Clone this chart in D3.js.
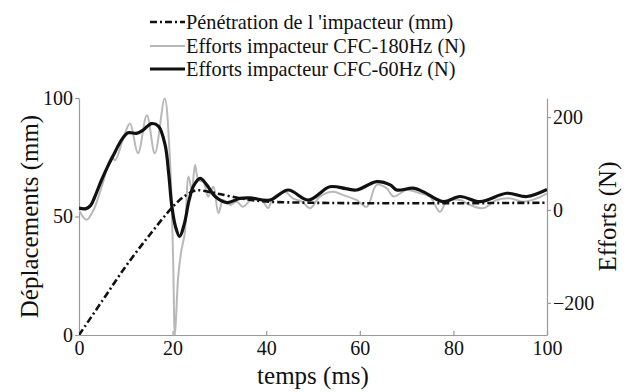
<!DOCTYPE html>
<html><head><meta charset="utf-8">
<script src="https://cdn.jsdelivr.net/npm/d3@7"></script>
<style>
body{margin:0;background:#fff;}
</style></head>
<body><svg id="c" width="632" height="392"></svg>
<script>
// Data
const tPen = [0,5,10,15,20,22.5,25,27.5,30,35,40,50,60,70,80,90,100];
const penMm = [0,14.5,29,42,54,58.5,61,60.5,59.5,57.5,56.3,55.8,55.6,55.6,55.6,55.7,55.8];

const t60 = [0,1.5,2.5,3.4,4.8,6.3,7.7,9.1,10.5,12.3,13.7,15.5,17.0,18.4,19.2,19.8,20.6,21.5,22.5,23.5,24.5,25.9,27.3,29.1,31.6,34.4,36.5,40.8,44.7,49,53.6,57,59.3,63.6,66.5,67.9,71.4,73.6,77.8,81.4,85.7,91.4,95.7,100];
const f60 = [4,3,10,29,64,97,125,151,166,165,172,186,180,140,75,11,-35,-57,-30,20,52,68,54,29,16,25,26,21.5,43,21.5,50,46,43,61,54,43,47,39,18,29,18,36,29,44];

const t180 = [0,1.6,3.1,5,7,7.7,9.8,10.9,12.6,14.5,16.2,18.3,19.4,20.1,20.5,21.2,21.9,22.6,23.4,24.1,24.8,25.5,26.6,27.6,28.7,29.8,30.8,32.3,33.7,35,37.2,39.3,40.4,41.5,44,45.7,47.6,49.4,51.5,54.3,56.5,59.3,61.5,63.6,65.7,67.2,70,72.9,75,77.1,78.6,81.4,83.5,86.4,89.2,92.1,94.9,97.8,100];
const f180 = [0,-21,0,55,115,107,165,186,122,204,122,240,115,-100,-269,-143,-86,-50,72,43,97,65,60,29,50,-7,21.5,11,18,7,25,18,4,26,39,25,18,4,29,39,32,21.5,7,54,47,29,43,36,29,-4,18,21.5,11,4,21.5,25,18,25,36];

const xTicks = [0,20,40,60,80,100];
const yLeftTicks = [0,50,100];
const yRightTicks = [-200,0,200];
const legendLabels = ["Pénétration de l 'impacteur (mm)","Efforts impacteur CFC-180Hz (N)","Efforts impacteur CFC-60Hz (N)"];

const FONT = "Liberation Serif, DejaVu Serif, serif";
const svg = d3.select("#c").attr("font-family",FONT);
const L=79,R=547,T=98,B=335;
const x = d3.scaleLinear().domain([0,100]).range([L,R]);
const yL = d3.scaleLinear().domain([0,100]).range([B,T]);
const yR = d3.scaleLinear().domain([-269,241]).range([B,T]);
const axisColor = "#9a9a9a";

svg.append("defs").append("clipPath").attr("id","clip")
  .append("rect").attr("x",L).attr("y",T-2).attr("width",R-L).attr("height",B-T+2);

// axes
const gx = svg.append("g").attr("transform",`translate(0,${B})`)
  .call(d3.axisBottom(x).tickValues(xTicks).tickSizeInner(-4).tickSizeOuter(0).tickPadding(9));
const gl = svg.append("g").attr("transform",`translate(${L},0)`)
  .call(d3.axisLeft(yL).tickValues(yLeftTicks).tickSizeInner(4).tickSizeOuter(0).tickPadding(2));
const gr = svg.append("g").attr("transform",`translate(${R},0)`)
  .call(d3.axisRight(yR).tickValues(yRightTicks).tickSizeInner(4).tickSizeOuter(0).tickPadding(2));
[gx,gl,gr].forEach(g=>{
  g.attr("font-family",FONT).attr("font-size",20);
  g.selectAll("path,line").attr("stroke",axisColor).attr("stroke-width",1.2);
  g.selectAll("text").attr("font-family",FONT).attr("font-size",20).attr("fill","#111");
});
gx.selectAll("text").attr("dy","0.55em");

// lines
const plot = svg.append("g").attr("clip-path","url(#clip)");
const line = (ts,vs,ys)=> d3.line().curve(d3.curveCatmullRom.alpha(0.5))
  .x((d,i)=>x(ts[i])).y((d,i)=>ys(vs[i]))(vs);

plot.append("path").attr("d",line(t180,f180,yR)).attr("fill","none")
  .attr("stroke","#b8b8b8").attr("stroke-width",2);
plot.append("path").attr("d",line(tPen,penMm,yL)).attr("fill","none")
  .attr("stroke","#111").attr("stroke-width",2.6).attr("stroke-dasharray","7,3,2,3");
plot.append("path").attr("d",line(t60,f60,yR)).attr("fill","none")
  .attr("stroke","#111").attr("stroke-width",3.2);

// titles
const title = (tr,txt)=> svg.append("text").attr("transform",tr).attr("text-anchor","middle")
  .attr("font-family",FONT).attr("font-size",25).attr("fill","#111").text(txt);
title(`translate(${(L+R)/2},384)`,"temps (ms)");
title(`translate(38,${(T+B)/2}) rotate(-90)`,"Déplacements (mm)");
title(`translate(616,${(T+B)/2}) rotate(-90)`,"Efforts (N)");

// legend
const lg = svg.append("g");
const styles = [
  {stroke:"#111",w:2.6,dash:"7,3,2,3"},
  {stroke:"#b8b8b8",w:2,dash:null},
  {stroke:"#111",w:3.2,dash:null}
];
const rowsY = [22,46,69];
legendLabels.forEach((lab,i)=>{
  lg.append("line").attr("x1",150).attr("x2",185).attr("y1",rowsY[i]).attr("y2",rowsY[i])
    .attr("stroke",styles[i].stroke).attr("stroke-width",styles[i].w)
    .attr("stroke-dasharray",styles[i].dash);
  lg.append("text").attr("x",186).attr("y",rowsY[i]).attr("dy","0.35em")
    .attr("font-family",FONT).attr("font-size",20.3).attr("fill","#111").text(lab);
});
</script></body></html>
